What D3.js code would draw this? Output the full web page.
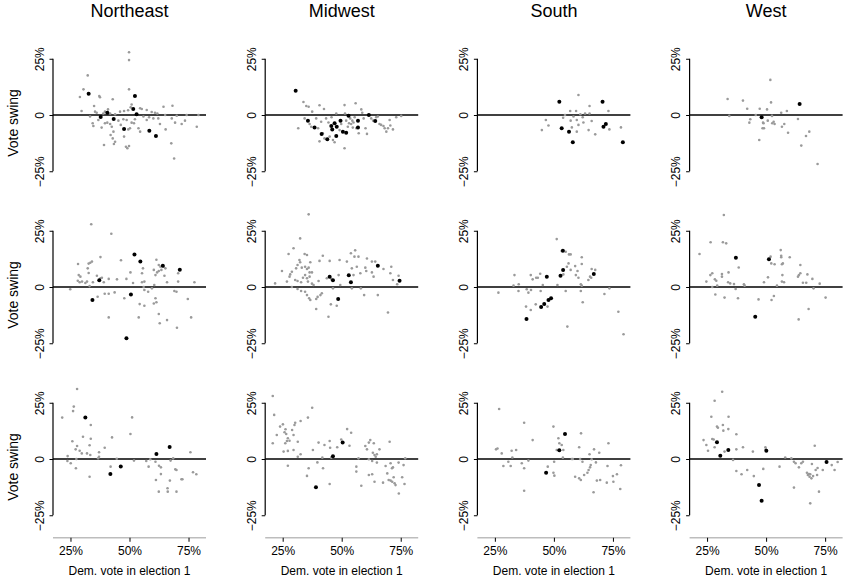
<!DOCTYPE html>
<html>
<head>
<meta charset="utf-8">
<script src="https://cdn.jsdelivr.net/npm/d3@7"></script>
<style>
body { margin: 0; background: #fff; }
text { font-family: "Liberation Sans", Arial, Helvetica, sans-serif; }
</style>
</head>
<body>
<script>
var regions = ["Northeast", "Midwest", "South", "West"];
var xTicks = [25, 50, 75];
var yTicks = [-25, 0, 25];

// points are [dem. vote in election 1 (%), vote swing (%)]
// row 1
var neGray1 = [[49.8,27.9],[49.8,24.4],[32.3,17.6],[30.5,11.4],[49.8,11.4],[29.0,8.0],[37.2,8.4],[37.5,7.9],[42.9,7.0],[35.0,4.0],[50.9,4.7],[50.5,3.4],[40.9,2.5],[54.5,3.0],[55.2,2.7],[64.4,3.7],[68.2,4.1],[29.7,1.8],[35.4,1.5],[36.1,1.0],[38.9,0.7],[39.6,1.5],[41.8,0.7],[43.9,0.3],[46.0,1.5],[47.7,1.8],[49.4,2.1],[57.3,2.2],[59.4,1.3],[60.8,1.0],[61.8,0.7],[65.1,0.0],[70.0,-0.3],[74.2,0.0],[79.2,0.0],[33.3,-0.7],[34.4,-3.7],[34.7,-4.9],[36.8,-2.2],[38.2,-5.6],[39.6,-3.7],[40.6,-3.4],[41.8,-4.0],[42.5,-5.2],[43.2,-7.4],[45.3,-2.5],[46.3,-4.4],[47.4,-1.9],[48.8,-2.2],[49.5,-6.4],[50.2,-5.9],[50.9,-3.4],[51.9,-3.7],[52.3,-1.9],[53.8,-5.9],[54.5,-7.4],[55.9,-0.7],[57.3,-2.2],[58.3,-1.0],[60.1,-1.5],[62.2,-1.5],[62.9,-4.0],[65.3,-6.4],[67.9,-1.5],[69.3,-3.4],[72.1,-4.0],[73.5,-2.5],[78.5,-5.2],[42.0,-8.9],[42.9,-10.4],[43.9,-11.9],[43.4,-12.9],[39.2,-13.3],[47.7,-9.6],[48.5,-14.1],[49.1,-14.8],[49.8,-13.8],[67.7,-12.6],[68.9,-19.3]];
var neBlack1 = [[32.7,9.5],[52.3,8.4],[51.6,2.7],[40.6,1.0],[37.8,-0.9],[53.0,0.3],[43.3,-1.8],[47.7,-6.2],[58.4,-7.0],[61.2,-9.3]];
var mwGray1 = [[33.8,5.8],[35.0,4.0],[36.0,3.7],[37.5,1.5],[40.6,4.3],[42.5,2.7],[31.6,-5.9],[34.3,-1.5],[36.4,-4.0],[37.1,-5.2],[39.2,-1.5],[40.0,-5.9],[40.6,-11.7],[41.3,-3.0],[42.0,-8.1],[42.7,-10.4],[43.4,-1.5],[44.4,-3.3],[44.9,-9.6],[45.7,-1.0],[46.3,-11.1],[47.0,-12.1],[47.7,0.7],[49.1,-6.7],[49.8,-4.0],[51.2,4.4],[51.4,0.7],[51.9,-2.5],[51.2,-14.8],[52.6,-5.2],[53.1,-3.7],[53.6,-1.5],[54.0,-4.0],[54.5,-2.5],[54.7,-5.6],[55.0,-3.3],[55.5,-1.0],[55.9,5.2],[56.2,-5.9],[57.2,-8.1],[58.3,2.5],[58.7,1.0],[59.3,-1.5],[60.1,-5.9],[60.7,-8.4],[62.5,-1.5],[63.3,-2.5],[64.6,-1.0],[65.3,-0.7],[66.0,-4.0],[66.7,-4.4],[67.7,-4.9],[68.2,-5.9],[68.9,-7.4],[69.6,-5.9],[70.3,-2.2],[71.7,-6.4],[73.1,-1.0],[75.2,-0.4],[70.6,-4.7]];
var mwBlack1 = [[30.5,10.8],[35.7,-2.5],[38.5,-5.6],[41.5,-8.4],[43.9,-10.8],[45.6,-4.9],[46.0,-6.4],[47.0,-3.7],[47.7,-9.3],[47.9,-5.2],[49.5,-2.5],[50.5,-7.4],[51.9,-7.9],[52.9,-0.3],[56.9,-2.5],[56.9,-5.6],[61.5,0.0],[64.2,-2.7]];
var sGray1 = [[60.4,8.9],[65.1,4.0],[56.9,1.8],[59.4,1.8],[63.2,0.7],[65.1,0.7],[73.1,1.8],[54.7,0.0],[53.9,-1.2],[58.3,-0.7],[61.2,0.3],[62.2,-1.0],[46.6,-2.2],[47.7,-4.7],[44.9,-6.7],[57.1,-2.5],[59.7,-2.2],[62.5,-3.3],[66.0,-2.7],[60.4,-4.4],[57.6,-5.5],[64.7,-6.7],[67.5,-8.6],[59.7,-7.4],[73.5,-6.4],[78.4,-5.5]];
var sBlack1 = [[52.3,5.9],[53.3,-5.9],[56.4,-7.4],[58.0,-12.1],[70.6,5.9],[71.0,-5.2],[72.0,-4.0],[79.2,-12.1]];
var wGray1 = [[33.7,7.1],[34.4,-0.4],[40.2,6.4],[42.0,2.8],[42.9,-3.4],[43.3,-1.9],[45.6,0.0],[47.3,2.8],[47.1,-11.1],[48.7,-3.4],[48.9,-3.7],[48.5,-5.9],[49.1,-5.9],[50.4,2.5],[50.7,-2.5],[51.8,15.6],[52.1,5.6],[52.5,-0.4],[52.6,-3.7],[53.2,-3.0],[53.6,-4.0],[56.4,1.0],[56.7,-5.2],[57.7,-4.0],[58.8,1.8],[59.3,-7.9],[63.5,-1.8],[64.9,-13.6],[66.9,-9.3],[68.3,-7.4],[71.8,-21.8]];
var wBlack1 = [[48.1,-1.0],[64.2,4.9]];

// row 2
var neGray2 = [[33.8,27.9],[42.3,23.7],[28.2,10.2],[32.7,10.4],[33.4,10.8],[34.1,11.3],[37.7,13.3],[46.4,11.9],[61.4,12.1],[62.4,9.8],[63.1,9.0],[64.5,9.0],[65.2,8.3],[32.3,8.3],[28.5,5.3],[29.2,4.6],[32.7,6.2],[36.2,5.0],[37.7,3.9],[38.3,4.1],[41.2,3.6],[44.7,3.4],[48.7,3.6],[50.4,6.5],[55.3,6.1],[55.7,8.3],[60.3,7.6],[61.0,5.3],[61.7,6.5],[62.4,7.1],[63.5,7.6],[64.8,5.0],[65.9,2.1],[70.6,6.1],[70.6,2.4],[77.5,2.1],[28.1,2.8],[28.9,2.1],[29.9,2.4],[31.3,1.8],[32.0,2.4],[33.1,0.4],[34.5,2.1],[39.1,2.1],[51.5,1.8],[55.3,2.1],[56.3,2.4],[56.0,0.0],[56.3,-1.3],[57.9,-2.1],[59.5,-0.6],[60.5,0.9],[24.9,-1.0],[36.5,-4.3],[39.5,-3.0],[41.2,-3.0],[43.7,-2.4],[47.8,-5.0],[54.3,-7.6],[56.3,-8.3],[60.3,-7.3],[61.0,-5.0],[61.4,-6.8],[62.4,-12.0],[62.8,-16.1],[65.9,-14.7],[69.0,-1.8],[69.9,-2.1],[70.1,-18.1],[74.7,-5.3],[76.1,-13.5],[41.2,-13.5],[53.9,-13.5]];
var neBlack2 = [[37.2,3.0],[34.3,-5.8],[50.6,-3.3],[52.1,14.5],[54.6,11.3],[64.1,9.5],[71.3,7.7],[48.7,-22.8]];
var mwGray2 = [[36.0,32.3],[32.4,21.6],[29.6,17.2],[27.5,14.7],[34.3,14.7],[35.3,14.2],[32.1,12.0],[32.4,11.0],[36.7,11.0],[42.0,13.9],[40.6,11.6],[44.9,11.6],[49.1,12.0],[52.2,11.3],[53.9,15.0],[55.7,16.3],[55.4,13.5],[57.1,13.5],[60.7,12.7],[62.8,11.3],[64.2,11.3],[24.7,7.1],[28.2,5.6],[28.9,6.8],[30.7,8.3],[31.3,9.8],[33.1,8.6],[34.5,9.0],[35.3,8.0],[36.0,8.6],[36.4,6.5],[37.4,6.5],[26.8,2.4],[27.9,4.6],[30.3,3.1],[31.3,2.7],[32.8,2.1],[33.6,4.1],[34.5,5.3],[35.3,3.9],[35.7,2.4],[36.4,4.6],[37.4,1.5],[38.1,0.9],[40.2,2.7],[43.7,3.9],[45.6,3.6],[48.7,5.3],[49.4,0.9],[54.3,8.3],[55.0,5.3],[56.4,9.0],[57.9,6.1],[60.0,8.6],[60.4,7.1],[62.8,6.5],[63.5,4.6],[67.7,8.0],[71.0,9.0],[70.6,6.1],[71.7,3.1],[74.1,5.0],[73.5,1.2],[21.8,1.6],[28.9,0.0],[31.3,-0.9],[32.8,-1.8],[34.5,-2.1],[35.3,-3.6],[36.2,-5.0],[36.7,-5.8],[39.2,-5.3],[39.8,-4.4],[41.0,-3.6],[41.6,-2.8],[39.2,-9.8],[44.4,-13.2],[45.4,-7.7],[46.3,-0.6],[47.9,-8.3],[54.3,-0.6],[58.1,-0.6],[59.5,-3.6],[65.3,-3.6],[69.6,-11.3]];
var mwBlack2 = [[44.9,4.6],[46.3,3.0],[48.5,-5.3],[53.0,5.2],[53.9,2.1],[65.3,9.5],[74.5,2.8]];
var sGray2 = [[51.2,21.3],[55.0,15.7],[56.4,14.5],[57.1,14.5],[61.8,13.2],[61.8,10.2],[56.2,10.5],[55.5,9.0],[59.0,9.3],[60.0,7.1],[57.1,7.6],[54.0,5.6],[59.3,5.3],[60.4,4.1],[61.4,1.2],[66.0,8.0],[67.5,7.6],[65.3,4.6],[64.6,3.1],[65.8,4.1],[33.3,5.3],[40.2,5.3],[41.0,3.4],[42.5,4.1],[43.2,4.1],[44.2,5.9],[32.9,0.6],[35.1,1.2],[51.5,0.9],[45.3,0.9],[26.5,-2.5],[35.0,-1.8],[38.5,-1.0],[39.2,-2.5],[40.3,-1.3],[44.4,-1.8],[55.0,-1.8],[61.4,-1.8],[61.8,0.6],[73.5,-0.6],[71.4,-3.1],[38.2,-8.7],[40.2,-10.2],[42.3,-7.7],[47.3,-8.7],[62.2,-6.8],[55.7,-17.6],[77.3,-11.0],[79.5,-21.0],[53.3,16.0]];
var sBlack2 = [[53.8,16.1],[53.9,7.6],[52.8,5.0],[47.0,4.6],[66.9,5.8],[48.8,-5.0],[47.7,-5.8],[45.9,-7.6],[44.6,-8.9],[38.4,-14.2]];
var wGray2 = [[32.1,32.0],[26.5,19.9],[31.7,19.9],[33.1,19.4],[21.8,14.7],[56.2,16.4],[56.4,13.9],[56.4,13.2],[60.0,13.2],[51.9,13.5],[52.2,10.5],[53.6,10.1],[56.7,10.1],[57.1,10.5],[38.4,8.7],[64.5,9.8],[34.1,6.5],[27.2,6.1],[26.4,5.3],[31.3,5.8],[31.3,4.6],[28.3,3.4],[28.9,2.8],[24.7,2.4],[33.9,2.1],[34.8,1.6],[36.4,1.3],[40.6,1.2],[40.9,0.6],[29.3,0.6],[27.2,0.0],[49.1,2.1],[50.8,4.3],[54.6,0.6],[56.9,5.3],[56.7,2.4],[57.6,2.1],[63.9,5.3],[64.5,6.1],[63.5,4.6],[67.5,5.6],[69.6,3.6],[65.6,1.9],[67.0,1.9],[72.7,1.5],[70.1,-0.6],[28.5,-3.3],[32.4,-4.7],[37.1,-0.9],[38.1,-5.0],[46.8,-5.5],[52.3,-5.8],[53.3,-4.0],[75.2,-4.7],[68.0,-9.8],[63.8,-14.4]];
var wBlack2 = [[37.2,13.0],[51.2,12.3],[45.4,-13.2]];

// row 3
var neGray3 = [[27.8,31.1],[26.4,23.3],[26.1,21.3],[21.5,18.4],[33.6,15.1],[51.1,18.5],[50.4,11.1],[30.3,9.9],[33.6,9.0],[25.8,7.9],[42.6,9.6],[39.5,5.0],[27.8,5.8],[27.2,4.3],[28.9,3.7],[29.8,2.5],[32.0,2.5],[33.1,6.1],[33.4,1.8],[37.1,3.0],[37.1,1.0],[36.7,0.3],[27.5,0.0],[23.8,1.3],[23.7,-0.9],[25.1,-1.9],[27.3,-4.1],[33.1,-7.9],[42.0,-3.4],[44.6,0.1],[51.9,-0.7],[57.1,-0.9],[58.1,-3.4],[58.8,-0.1],[61.0,-1.2],[61.2,-9.3],[62.5,-3.0],[63.3,-3.7],[63.3,-6.7],[62.4,-14.5],[66.2,-14.5],[66.1,-13.0],[67.1,-9.6],[67.4,-0.7],[68.5,0.3],[69.4,-4.6],[69.9,-4.9],[69.9,-14.5],[72.0,-9.0],[72.4,-9.0],[75.8,3.0],[76.9,-5.9],[78.3,-6.8]];
var neBlack3 = [[31.3,18.5],[61.4,2.2],[67.0,5.3],[46.3,-3.3],[41.9,-6.7]];
var mwGray3 = [[20.8,28.0],[21.4,19.6],[20.8,7.0],[22.5,10.7],[23.9,14.4],[25.1,15.4],[26.2,13.2],[26.5,11.1],[25.8,11.9],[27.2,9.2],[26.1,7.0],[26.8,8.0],[27.9,8.1],[29.0,12.9],[29.6,10.7],[30.0,15.1],[30.3,16.1],[31.4,7.7],[25.4,3.3],[27.2,3.6],[29.6,4.0],[27.2,-3.0],[31.4,1.0],[32.6,2.1],[32.6,16.9],[35.7,18.4],[37.5,22.8],[37.8,4.0],[40.2,7.3],[39.7,-1.5],[41.8,0.6],[42.7,6.2],[42.1,-4.1],[36.0,-4.1],[35.3,-7.5],[44.9,8.0],[45.1,5.0],[45.6,0.6],[44.9,-11.1],[48.1,5.2],[49.8,8.7],[52.3,13.3],[54.0,11.7],[53.3,5.9],[57.1,0.3],[56.2,-3.4],[56.2,-5.6],[58.3,-11.9],[60.0,5.8],[60.7,4.3],[61.5,7.3],[62.1,8.4],[61.5,-0.1],[62.9,-0.9],[63.2,2.8],[63.6,7.0],[63.9,1.8],[64.9,2.1],[64.4,1.0],[64.9,-1.6],[66.0,4.3],[61.5,-7.1],[62.9,-6.8],[63.9,-10.1],[67.5,-10.5],[68.6,-3.1],[69.3,-6.4],[69.9,-9.3],[70.3,7.7],[70.7,-1.9],[71.3,-4.1],[71.7,-3.7],[70.7,-9.6],[71.4,-10.1],[72.0,-8.1],[72.4,-10.8],[72.8,-11.6],[74.1,-1.6],[74.2,-15.3],[75.6,-8.1],[76.2,-2.7],[76.6,-11.1],[76.9,0.3]];
var mwBlack3 = [[46.3,1.2],[50.4,7.3],[39.1,-12.6]];
var sGray3 = [[26.8,22.2],[37.4,16.1],[41.0,8.4],[49.8,14.4],[51.9,9.2],[52.3,7.0],[51.2,4.0],[54.0,4.0],[53.3,6.2],[61.5,11.4],[60.7,5.2],[25.5,4.3],[26.1,4.7],[27.9,2.5],[32.1,3.7],[34.0,4.0],[32.4,0.7],[30.7,-1.2],[28.6,-3.1],[31.7,-3.1],[36.4,-1.9],[37.4,-4.1],[39.2,-0.7],[37.4,-14.1],[47.4,-3.4],[50.1,-1.2],[49.8,-6.1],[50.2,-7.4],[53.8,0.6],[57.6,0.0],[58.0,0.0],[59.0,-7.9],[60.7,-8.6],[61.4,-9.3],[61.1,0.0],[62.1,-1.2],[62.8,-7.1],[64.2,-6.1],[64.7,-4.9],[65.3,-3.7],[65.6,-2.7],[66.0,-0.1],[65.1,2.1],[67.0,4.3],[67.8,-1.5],[69.2,2.8],[66.8,-14.8],[68.2,-9.6],[69.6,-9.3],[72.4,-10.5],[72.7,-3.1],[73.1,7.0],[75.0,-7.6],[75.2,-10.1],[76.7,-6.8],[78.4,-2.8],[78.1,-13.3]];
var sBlack3 = [[46.7,-6.1],[52.3,3.9],[54.7,11.1]];
var wGray3 = [[31.4,29.9],[28.2,25.9],[26.8,18.8],[34.1,18.8],[29.2,14.4],[29.6,13.9],[31.7,15.1],[31.9,12.6],[34.0,13.3],[37.4,11.0],[23.5,8.4],[27.2,8.9],[27.8,8.7],[24.7,6.2],[25.4,3.7],[28.2,5.2],[32.4,3.3],[37.4,4.3],[40.2,5.2],[44.4,3.3],[49.7,5.2],[49.9,4.3],[36.0,-0.4],[37.4,-5.3],[39.6,-6.8],[42.0,-4.9],[44.8,-7.6],[48.8,-4.4],[55.7,-3.4],[58.1,0.7],[60.7,0.3],[61.8,-1.2],[62.5,-1.9],[63.9,-3.7],[64.9,-1.9],[65.6,-1.2],[61.8,-12.7],[67.3,-6.1],[67.7,-7.1],[68.2,-6.7],[68.4,-7.9],[68.7,-6.8],[69.2,-8.6],[69.9,-7.6],[70.6,5.9],[69.4,-2.2],[71.0,-4.9],[71.6,-7.1],[68.7,-19.7],[72.4,-14.5],[71.8,-4.0],[74.0,-4.9],[77.8,-2.7],[80.3,-1.3],[79.0,-4.9]];
var wBlack3 = [[29.2,7.4],[30.6,1.5],[34.0,4.0],[47.0,-11.6],[48.1,-18.5],[50.1,3.7],[75.6,-1.3]];

var grayRows = [
    [neGray1, mwGray1, sGray1, wGray1],
    [neGray2, mwGray2, sGray2, wGray2],
    [neGray3, mwGray3, sGray3, wGray3]
];
var blackRows = [
    [neBlack1, mwBlack1, sBlack1, wBlack1],
    [neBlack2, mwBlack2, sBlack2, wBlack2],
    [neBlack3, mwBlack3, sBlack3, wBlack3]
];

var svg = d3.select("body")
    .append("svg")
    .attr("width", 843)
    .attr("height", 580);

var plotW = 153;
var half = 78.75;

function pct(d) {
    if (d === 0) return "0";
    return (d < 0 ? "\u2212" + (-d) : d) + "%";
}

for (var r = 0; r < 3; r++) {
    for (var c = 0; c < 4; c++) {
        var left = 53 + c * 212.2;
        var zero = 115 + r * 172;
        var x = d3.scaleLinear().domain([17.6, 82.4]).range([left, left + plotW]);
        var y = d3.scaleLinear().domain([-35, 35]).range([zero + half, zero - half]);
        var g = svg.append("g");

        // y axis, line only between outer ticks
        var ya = g.append("g")
            .attr("transform", "translate(" + left + ",0)")
            .call(d3.axisLeft(y).tickValues(yTicks).tickSize(3.5).tickFormat(pct));
        ya.select(".domain").remove();
        ya.append("line")
            .attr("x1", 0)
            .attr("x2", 0)
            .attr("y1", y(25))
            .attr("y2", y(-25))
            .attr("stroke", "#000")
            .attr("stroke-width", 1.2);
        ya.selectAll("text")
            .attr("transform", "rotate(-90)")
            .attr("x", 0)
            .attr("y", -9.5)
            .attr("dy", 0)
            .attr("text-anchor", "middle")
            .attr("font-size", 12)
            .attr("fill", "#000");
        ya.attr("font-family", null);

        // zero line
        g.append("line")
            .attr("x1", x(17.6))
            .attr("x2", x(82.4))
            .attr("y1", y(0))
            .attr("y2", y(0))
            .attr("stroke", "#000")
            .attr("stroke-width", 1.5);

        g.selectAll("circle.gray")
            .data(grayRows[r][c])
            .enter()
            .append("circle")
            .attr("class", "gray")
            .attr("cx", function (d) { return x(d[0]); })
            .attr("cy", function (d) { return y(d[1]); })
            .attr("r", 1.3)
            .attr("fill", "#9a9a9a");

        g.selectAll("circle.black")
            .data(blackRows[r][c])
            .enter()
            .append("circle")
            .attr("class", "black")
            .attr("cx", function (d) { return x(d[0]); })
            .attr("cy", function (d) { return y(d[1]); })
            .attr("r", 2)
            .attr("fill", "#000");

        if (r === 0) {
            g.append("text")
                .attr("x", left + plotW / 2)
                .attr("y", 17)
                .attr("text-anchor", "middle")
                .attr("font-size", 18)
                .text(regions[c]);
        }
        if (c === 0) {
            g.append("text")
                .attr("transform", "translate(18," + (zero + 8) + ") rotate(-90)")
                .attr("text-anchor", "middle")
                .attr("font-size", 14)
                .text("Vote swing");
        }
        if (r === 2) {
            var xa = g.append("g")
                .attr("transform", "translate(0," + (zero + half) + ")")
                .call(d3.axisBottom(x).tickValues(xTicks).tickSize(4).tickPadding(4.5)
                    .tickFormat(pct));
            xa.select(".domain").remove();
            xa.insert("line", ":first-child")
                .attr("x1", x(17.6))
                .attr("x2", x(82.4))
                .attr("y1", 0)
                .attr("y2", 0)
                .attr("stroke", "#bdbdbd")
                .attr("stroke-width", 1.5);
            xa.selectAll("text")
                .attr("font-size", 12)
                .attr("fill", "#000");
            xa.attr("font-family", null);
            g.append("text")
                .attr("x", left + plotW / 2)
                .attr("y", 575)
                .attr("text-anchor", "middle")
                .attr("font-size", 12)
                .text("Dem. vote in election 1");
        }
    }
}
</script>
</body>
</html>
